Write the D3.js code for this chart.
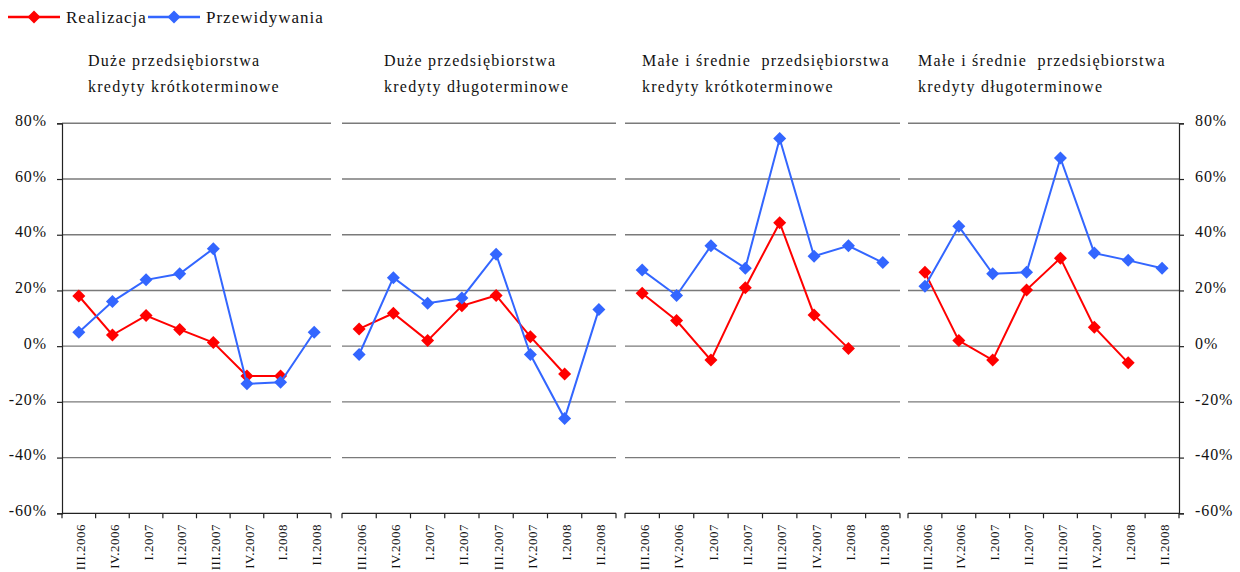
<!DOCTYPE html>
<html><head><meta charset="utf-8">
<script src="https://cdn.jsdelivr.net/npm/d3@7"></script>
<style>
body{margin:0;background:#fff}
svg text{font-family:"Liberation Serif","Times New Roman",serif;fill:#111}
</style></head><body>
<svg id="chart" width="1240" height="572"></svg>
<script>
// ---- data ----
const categories = ["III.2006","IV.2006","I.2007","II.2007","III.2007","IV.2007","I.2008","II.2008"];
const yTicks = [-60,-40,-20,0,20,40,60,80];
const seriesNames = ["Realizacja","Przewidywania"];
const titlesLine1 = ["Duże przedsiębiorstwa","Duże przedsiębiorstwa","Małe i średnie  przedsiębiorstwa","Małe i średnie  przedsiębiorstwa"];
const titlesLine2 = ["kredyty krótkoterminowe","kredyty długoterminowe","kredyty krótkoterminowe","kredyty długoterminowe"];
const realDuzeKrotko = [18, 4, 11, 6, 1.3, -10.7, -10.7, null];
const przewDuzeKrotko = [5, 16, 23.8, 26, 35, -13.5, -13, 5];
const realDuzeDlugo = [6.2, 11.8, 2, 14.5, 18.2, 3.4, -10, null];
const przewDuzeDlugo = [-3, 24.6, 15.4, 17.3, 33, -3, -26, 13.2];
const realMsKrotko = [19, 9.2, -5, 21, 44.3, 11.2, -0.8, null];
const przewMsKrotko = [27.3, 18.2, 36, 28, 74.5, 32.3, 36, 30];
const realMsDlugo = [26.5, 2, -5, 20.2, 31.6, 6.8, -6, null];
const przewMsDlugo = [21.5, 43, 26, 26.5, 67.5, 33.4, 30.8, 28];

const panelsData = [
  [realDuzeKrotko, przewDuzeKrotko],
  [realDuzeDlugo, przewDuzeDlugo],
  [realMsKrotko, przewMsKrotko],
  [realMsDlugo, przewMsDlugo]
];

// ---- layout ----
const colors = ["#ff0000", "#3366ff"];
const panelX = [[62,331],[342,616],[625,900],[908,1179]];
const titleX = [88,384,642,918];
const svg = d3.select("#chart");
const y = d3.scaleLinear().domain([-60,80]).range([513.3,123.3]);

const diamond = {draw(ctx, size){ const r = Math.sqrt(size)/2; ctx.moveTo(0,-r); ctx.lineTo(r,0); ctx.lineTo(0,r); ctx.lineTo(-r,0); ctx.closePath(); }};
const sym = d3.symbol().type(diamond).size(13*13);

// legend
const legend = svg.append("g");
seriesNames.forEach((name,i)=>{
  const lx = i===0 ? 8 : 148;
  const g = legend.append("g").attr("transform",`translate(${lx},17)`);
  g.append("line").attr("x1",0).attr("x2",52).attr("y1",0).attr("y2",0)
    .attr("stroke",colors[i]).attr("stroke-width",2.5);
  g.append("path").attr("d",sym).attr("transform","translate(26,0)").attr("fill",colors[i]);
  g.append("text").attr("x",58).attr("y",6).attr("font-size",17).attr("letter-spacing",1.0).text(name);
});

panelsData.forEach((series, p)=>{
  const [x0,x1] = panelX[p];
  const x = d3.scaleBand().domain(categories).range([x0,x1]);
  const g = svg.append("g");

  // titles
  g.append("text").attr("x",titleX[p]).attr("y",66).attr("font-size",16).attr("letter-spacing",1.25)
    .style("white-space","pre").text(titlesLine1[p]);
  g.append("text").attr("x",titleX[p]).attr("y",92).attr("font-size",16).attr("letter-spacing",1.25)
    .text(titlesLine2[p]);

  // gridlines
  g.selectAll("line.grid").data(yTicks.filter(t=>t>-60)).join("line")
    .attr("x1",x0).attr("x2",x1).attr("y1",d=>y(d)).attr("y2",d=>y(d))
    .attr("stroke","#7a7a7a").attr("stroke-width",1.4);

  // bottom axis line and ticks at band boundaries
  g.append("line").attr("x1",x0).attr("x2",x1).attr("y1",y(-60)).attr("y2",y(-60))
    .attr("stroke","#222").attr("stroke-width",1.2);
  const bounds = categories.map(c=>x(c)).concat([x1]);
  g.selectAll("line.xt").data(bounds).join("line")
    .attr("x1",d=>d).attr("x2",d=>d).attr("y1",y(-60)).attr("y2",y(-60)+5)
    .attr("stroke","#222").attr("stroke-width",1.2);

  // x labels
  g.selectAll("text.xl").data(categories).join("text")
    .attr("transform",d=>`translate(${x(d)+x.bandwidth()/2+2},524) rotate(-90)`)
    .attr("text-anchor","end").attr("dy","0.35em").attr("font-size",13).attr("letter-spacing",0.5)
    .text(d=>d);

  // y axes
  const styleAxis = ax => {
    ax.attr("font-family",null);
    ax.select(".domain").attr("stroke","#222").attr("stroke-width",1.2);
    ax.selectAll(".tick line").attr("stroke","#222").attr("stroke-width",1.2);
    ax.selectAll("text").attr("font-size",16).attr("letter-spacing",0.9).attr("dy","0.14em")
      .attr("fill","#111");
  };
  if (p===0){
    g.append("g").attr("transform",`translate(${x0},0)`)
      .call(d3.axisLeft(y).tickValues(yTicks).tickSize(5).tickPadding(10).tickFormat(d=>d+"%"))
      .call(styleAxis);
  }
  if (p===3){
    g.append("g").attr("transform",`translate(${x1},0)`)
      .call(d3.axisRight(y).tickValues(yTicks).tickSize(5).tickPadding(11).tickFormat(d=>d+"%"))
      .call(styleAxis);
  }

  // series
  series.forEach((vals, s)=>{
    const pts = vals.map((v,i)=>({c:categories[i], v})).filter(d=>d.v!=null);
    const line = d3.line().x(d=>x(d.c)+x.bandwidth()/2).y(d=>y(d.v));
    g.append("path").datum(pts).attr("d",line).attr("fill","none")
      .attr("stroke",colors[s]).attr("stroke-width",2);
    g.selectAll(null).data(pts).join("path")
      .attr("d",sym).attr("transform",d=>`translate(${x(d.c)+x.bandwidth()/2},${y(d.v)})`)
      .attr("fill",colors[s]);
  });
});
</script>
</body></html>
